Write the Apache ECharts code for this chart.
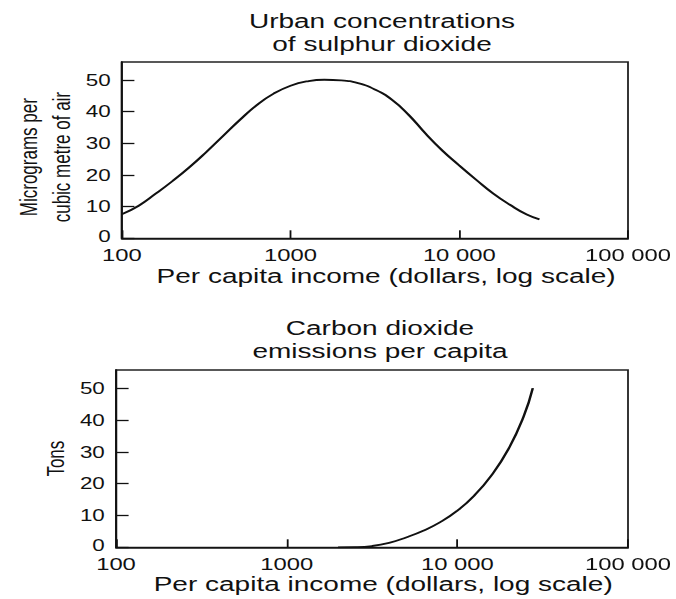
<!DOCTYPE html>
<html>
<head>
<meta charset="utf-8">
<script src="https://cdn.jsdelivr.net/npm/echarts@6.0.0/dist/echarts.min.js"></script>
<style>
html, body { margin: 0; padding: 0; background: #fff; overflow: hidden; width: 676px; height: 599px; }
#wrap { position: absolute; left: 0; top: 0; height: 599px; transform-origin: 0 0; }
</style>
</head>
<body>
<div id="wrap"></div>
<script>
// ---- data ----
const titles = ['Urban concentrations\nof sulphur dioxide', 'Carbon dioxide\nemissions per capita'];
const yAxisNames = ['Micrograms per\ncubic metre of air', 'Tons'];
const xAxisName = 'Per capita income (dollars, log scale)';
const xTickValues = [100, 1000, 10000, 100000];
const xTickLabels = ['100', '1000', '10 000', '100 000'];

const sulphurIncome = [100, 126, 158, 200, 251, 316, 398, 501, 631, 794, 1000, 1259, 1585, 1995, 2512, 3162, 3981, 5012, 6310, 7943, 10000, 12589, 15849, 19953, 25119, 29880];
const sulphurValues = [7.6, 10.3, 14.0, 18.1, 22.4, 27.2, 32.3, 37.4, 42.1, 45.7, 48.2, 49.6, 50.1, 49.9, 49.0, 47.0, 43.8, 39.0, 33.1, 27.7, 23.0, 18.5, 14.2, 10.6, 7.5, 6.0];

const co2Income = [2000, 2512, 3162, 3981, 5012, 6310, 7943, 10000, 12589, 15849, 19953, 24430, 27680];
const co2Values = [0, 0.05, 0.4, 1.4, 3.1, 5.2, 7.9, 11.5, 16.3, 22.6, 30.9, 41.0, 50.0];

// ---- layout ----
const S = 1.4;                 // the reference is stretched horizontally
const W = 676 / S, H = 599;
const wrap = document.getElementById('wrap');
wrap.style.width = W + 'px';
wrap.style.transform = 'scaleX(' + S + ')';

const FONT = "'Liberation Sans', Arial, Helvetica, sans-serif";
const INK = '#111';
const gLeft = 116 / S, gWidth = (628 - 116) / S;

function zip(xs, ys) { return xs.map((x, i) => [x, ys[i]]); }

function xAxis(gi) {
  return {
    type: 'log', logBase: 10, gridIndex: gi, min: 100, max: 100000,
    name: xAxisName, nameLocation: 'middle', nameGap: gi === 0 ? 28 : 27,
    nameTextStyle: { fontFamily: FONT, fontSize: 20, color: INK, padding: [0, 0, 0, 16] },
    axisLine: { show: true, lineStyle: { color: INK, width: 1.5 } },
    axisTick: { show: true, inside: true, length: 8, lineStyle: { color: INK, width: 1.3 } },
    axisLabel: {
      show: true, margin: 8, fontFamily: FONT, fontSize: 17, color: INK,
      showMinLabel: true, showMaxLabel: true,
      formatter: v => { const k = Math.round(Math.log10(v)) - 2; return xTickLabels[k] !== undefined ? xTickLabels[k] : ''; }
    },
    splitLine: { show: false }
  };
}
function yAxis(gi) {
  return {
    type: 'value', gridIndex: gi, min: 0, max: 55.7, interval: 10,
    name: yAxisNames[gi], nameLocation: 'middle', nameGap: 31, nameMoveOverlap: false,
    nameTextStyle: { fontFamily: FONT, fontSize: 17, color: INK, lineHeight: 24, padding: gi === 0 ? [0, 14, 0, 0] : 0 },
    axisLine: { show: true, lineStyle: { color: INK, width: 1.5 } },
    axisTick: { show: true, inside: true, length: 9, lineStyle: { color: INK, width: 1.3 } },
    axisLabel: {
      show: true, margin: 8, fontFamily: FONT, fontSize: 16, color: INK,
      showMaxLabel: false,
      formatter: v => (Math.abs(v % 10) < 1e-6 ? (v === 0 ? '{z|0}' : String(v)) : ''),
      rich: { z: { fontFamily: FONT, fontSize: 16, color: INK, padding: [0, 0, 4, 0] } }
    },
    splitLine: { show: false }
  };
}

const chart = echarts.init(wrap, null, { renderer: 'svg', width: W, height: H });
chart.setOption({
  animation: false,
  backgroundColor: '#fff',
  title: [
    { text: titles[0], left: 382 / S, top: 9, textAlign: 'center', padding: 0,
      textStyle: { fontFamily: FONT, fontSize: 20, fontWeight: 'normal', color: INK, lineHeight: 23.5 } },
    { text: titles[1], left: 380 / S, top: 316, textAlign: 'center', padding: 0,
      textStyle: { fontFamily: FONT, fontSize: 20, fontWeight: 'normal', color: INK, lineHeight: 23.5 } }
  ],
  grid: [
    { left: gLeft, top: 62, width: gWidth, height: 176.3, show: true, borderColor: '#222', borderWidth: 1.3, containLabel: false },
    { left: gLeft, top: 370, width: gWidth, height: 177.3, show: true, borderColor: '#222', borderWidth: 1.3, containLabel: false }
  ],
  xAxis: [xAxis(0), xAxis(1)],
  yAxis: [yAxis(0), yAxis(1)],
  series: [
    { type: 'line', xAxisIndex: 0, yAxisIndex: 0, data: zip(sulphurIncome, sulphurValues),
      smooth: 0.5, showSymbol: false, lineStyle: { color: INK, width: 1.8 } },
    { type: 'line', xAxisIndex: 1, yAxisIndex: 1, data: zip(co2Income, co2Values),
      smooth: 0.5, showSymbol: false, lineStyle: { color: INK, width: 1.8 } }
  ]
});
</script>
</body>
</html>
